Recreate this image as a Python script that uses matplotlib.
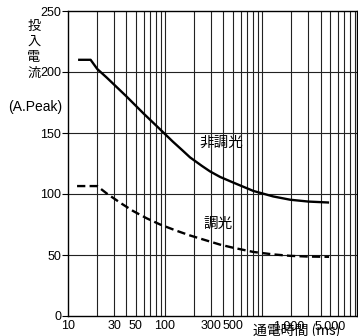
import matplotlib
matplotlib.use("Agg")
import matplotlib.pyplot as plt
import matplotlib.transforms as mtransforms

# data
solid_t = [12.7, 17.1, 20, 25, 30, 40, 60, 85, 120, 150, 181, 240, 291, 369, 500, 813, 1300, 1950, 3000, 4900]
solid_i = [210, 210, 202.5, 195.5, 189.5, 180, 166, 154.5, 143, 136, 130, 123, 118.5, 114, 109.5, 102.5, 98, 95.3, 93.8, 93]
dash_t = [12.4, 20.0, 25, 35, 47, 65, 89, 130, 181, 291, 369, 500, 813, 1300, 1950, 3000, 4900]
dash_i = [106.5, 106.5, 100.5, 92.5, 86, 80, 75, 70, 66, 61, 58.5, 56, 52.5, 50.5, 49.3, 48.7, 48.5]
xticks = [10, 30, 50, 100, 300, 500, 1000, 5000]
xticklabels = ["10", "30", "50", "100", "300", "500", "1,000", "5,000"]
yticks = [0, 50, 100, 150, 200, 250]

plt.rcParams['font.family'] = ['Liberation Sans', 'Noto Sans CJK JP', 'DejaVu Sans']
cjk = ['Noto Sans CJK JP', 'DejaVu Sans']

fig = plt.figure(figsize=(3.58, 3.36), dpi=100)
ax = fig.add_axes([68/358, 1-316/336, 289/358, 305/336])

ax.set_xscale('log')
ax.set_xlim(10, 9500)
ax.set_ylim(0, 250)

# grid
minor = [m * 10**e for e in range(1, 4) for m in range(1, 10)]
for v in minor:
    if 10 < v < 9500:
        ax.axvline(v, color='#222222', lw=0.8, zorder=1)
for v in [50, 100, 150, 200]:
    ax.axhline(v, color='#222222', lw=0.8, zorder=1)

ax.plot(solid_t, solid_i, color='black', lw=1.7, zorder=3, solid_capstyle='butt', solid_joinstyle='round')
ax.plot(dash_t, dash_i, color='black', lw=1.7, ls=(0, (3.5, 1.8)), zorder=3)

ax.set_xticks(xticks)
ax.set_xticklabels(xticklabels)
ax.xaxis.set_minor_locator(matplotlib.ticker.NullLocator())
ax.set_yticks(yticks)
ax.tick_params(axis='x', length=0, pad=3, labelsize=9)
ax.tick_params(axis='y', length=4, width=0.8, pad=1, labelsize=9)
for s in ax.spines.values():
    s.set_linewidth(1.0)

# shift "1,000" label to the right as in the reference
lbl = ax.get_xticklabels()[6]
lbl.set_transform(lbl.get_transform() + mtransforms.ScaledTranslation(27/100, 0, fig.dpi_scale_trans))

# curve labels
fig.text(221/358, 1-143/336, "非調光", fontfamily=cjk, fontsize=10.5, ha='center', va='center')
fig.text(218/358, 1-224/336, "調光", fontfamily=cjk, fontsize=10.5, ha='center', va='center')

# y label
fig.text(34/358, 1-50/336, "投\n入\n電\n流", fontfamily=cjk, fontsize=9.5, ha='center', va='center', linespacing=1.25)
fig.text(35/358, 1-107/336, "(A.Peak)", fontsize=10, ha='center', va='center')

# x label
fig.text(297/358, 1-330/336, "通電時間 (ms)", fontfamily=cjk, fontsize=10, ha='center', va='center')

fig.savefig("out.png", dpi=100)
